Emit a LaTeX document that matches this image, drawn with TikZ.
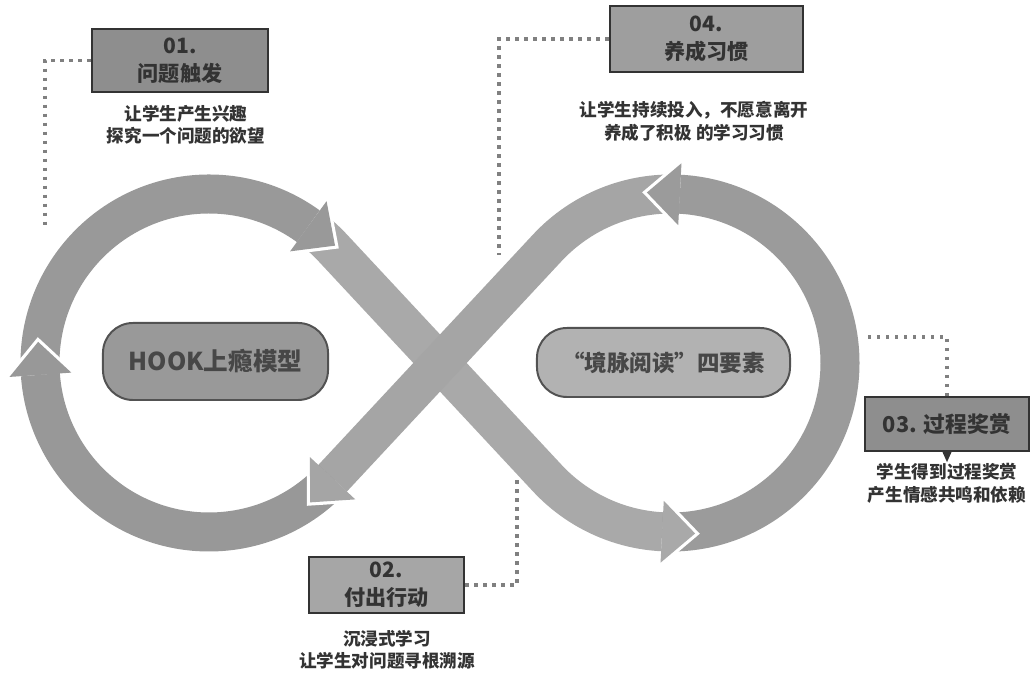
\documentclass[tikz,border=0pt]{standalone}
\usepackage{fontspec}
\setmainfont{Noto Sans CJK SC}
\usetikzlibrary{calc,positioning}

\definecolor{bandA}{HTML}{999999}
\definecolor{bandB}{HTML}{A9A9A9}
\definecolor{bandC}{HTML}{9B9B9B}
\definecolor{bandD}{HTML}{A5A5A5}
\definecolor{bandE}{HTML}{989898}
\definecolor{boxdark}{HTML}{8E8E8E}
\definecolor{boxlight}{HTML}{A6A6A6}
\definecolor{inkgray}{HTML}{333333}
\definecolor{dotgray}{HTML}{808080}

\tikzset{
  band/.style={line width=0.975cm},
  labelbox/.style={draw=inkgray, line width=1.6pt, text=inkgray, align=center,
    inner sep=0pt, font=\bfseries\fontsize{15}{20}\selectfont},
  subtext/.style={text=inkgray, align=center, font=\bfseries\fontsize{12.5}{16}\selectfont},
  centrebox/.style={draw=inkgray!85, line width=1.4pt, rounded corners=0.75cm,
    text=inkgray!90, inner sep=0pt},
  leader/.style={dotgray, line width=2.4pt, dash pattern=on 2.4pt off 4pt},
  pics/bandhead/.style={code={
    \draw[white, line width=0.16cm, line join=miter] (0,-31) -- (33,0) -- (0,31);
    \fill[#1] (0,-31) -- (33,0) -- (0,31) -- cycle;
  }},
}

\begin{document}
\begin{tikzpicture}[x=0.025cm, y=0.025cm]
\fill[white] (0,0) rectangle (1035,675);
\useasboundingbox (0,0) rectangle (1035,675);

% loop centres
\coordinate (L) at (209,312);
\coordinate (R) at (671,312);

% the infinity band
\draw[band, bandA] ($(L)+(184:169)$) arc[start angle=184, end angle=54, radius=169];
\draw[band, bandB] ($(L)+(54:169)$) arc[start angle=54, end angle=43, radius=169]
  -- ($(R)+(223:169)$) arc[start angle=223, end angle=267, radius=169];
\draw[band, bandC] ($(R)+(267:169)$) arc[start angle=267, end angle=447, radius=169];
\draw[band, bandD] ($(R)+(87:169)$) arc[start angle=87, end angle=137, radius=169]
  -- ($(L)+(-43:169)$);
\draw[band, bandE] ($(L)+(-43:169)$) arc[start angle=-43, end angle=-176, radius=169];

% heads
\pic[rotate=94] at ($(L)+(-176:169)$) {bandhead=bandE};
\pic[rotate=-36] at ($(L)+(54:169)$) {bandhead=bandA};
\pic[rotate=357] at ($(R)+(267:169)$) {bandhead=bandB};
\pic[rotate=177] at ($(R)+(87:169)$) {bandhead=bandC};
\pic[rotate=-133] at ($(L)+(-43:169)$) {bandhead=bandD};

% centre labels
\node[centrebox, fill=bandA, minimum width=5.625cm, minimum height=1.925cm,
  font=\bfseries\fontsize{17.5}{20}\selectfont] (hook) at (215.5,313.5) {HOOK上瘾模型};
\node[centrebox, fill=black!30, minimum width=6.325cm, minimum height=1.725cm,
  font=\bfseries\fontsize{16}{20}\selectfont] (jingmai) at (663.5,312.5) {“境脉阅读”四要素};

% step boxes
\node[labelbox, fill=boxdark, minimum width=4.4cm, minimum height=1.575cm] (box01) at (180,614.5) {01.\\问题触发};
\node[subtext] (sub01) at (186,550) {让学生产生兴趣\\探究一个问题的欲望};

\node[labelbox, fill=boxlight, minimum width=3.875cm, minimum height=1.4cm] (box02) at (386.5,90) {02.\\付出行动};
\node[subtext] (sub02) at (387,25) {沉浸式学习\\让学生对问题寻根溯源};

\node[labelbox, fill=boxdark, minimum width=4.1cm, minimum height=1.35cm,
  font=\bfseries\fontsize{15.5}{20}\selectfont] (box03) at (947,251) {03. 过程奖赏};
\node[subtext] (sub03) at (947,191.5) {学生得到过程奖赏\\产生情感共鸣和依赖};

\node[labelbox, fill=boxlight!95!black, minimum width=4.825cm, minimum height=1.65cm] (box04) at (706.5,636) {04.\\养成习惯};
\node[subtext] (sub04) at (694,553.5) {让学生持续投入，不愿意离开\\养成了积极 的学习习惯};

% dotted leaders
\coordinate (c01) at (45,447);
\coordinate (c02) at (517,195);
\coordinate (c03) at (868,338);
\coordinate (c04) at (499,420);
\draw[leader] (box01.west) -| (c01);
\draw[leader] (box02.east) -| (c02);
\draw[leader] (c03) -| (box03.north);
\draw[leader] (box04.west) -| (c04);
\fill[inkgray] ($(box03.south)+(-4.5,0)$) -- ++(9,0) -- ++(-4.5,-10) -- cycle;

\end{tikzpicture}
\end{document}
